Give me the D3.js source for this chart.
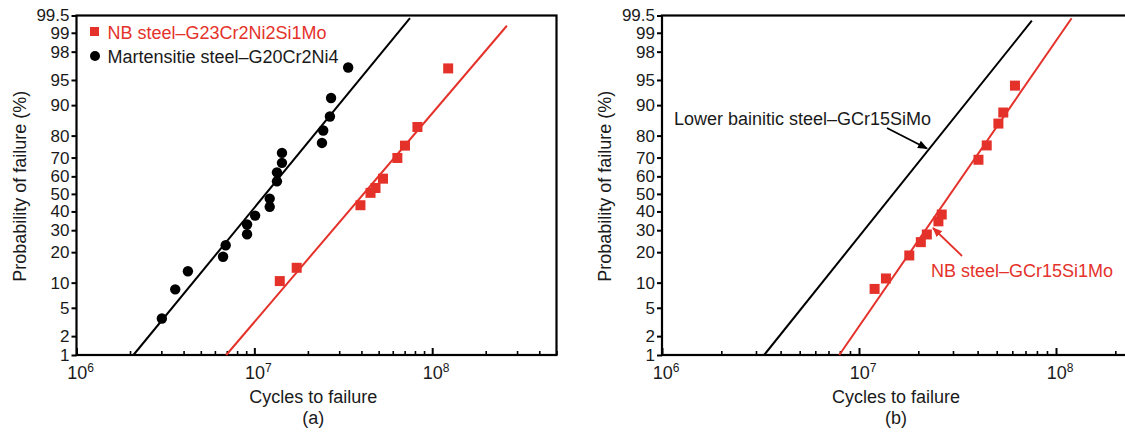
<!DOCTYPE html>
<html><head><meta charset="utf-8">
<script src="https://cdn.jsdelivr.net/npm/d3@7"></script>
<style>
html,body{margin:0;padding:0;background:#fff;}
svg{display:block;font-family:"Liberation Sans",Arial,sans-serif;}
</style></head>
<body>
<svg id="chart" width="1125" height="433"></svg>
<script>
// ---------- data ----------
const xDomain = [1e6, 5e8];
const yTickValues = [1, 2, 5, 10, 20, 30, 40, 50, 60, 70, 80, 90, 95, 98, 99, 99.5];
const yTickLabels = ["1","2","5","10","20","30","40","50","60","70","80","90","95","98","99","99.5"];
const xDecades = [6, 7, 8];

// panel (a)
const martN = [3.02e6, 3.59e6, 4.23e6, 6.67e6, 6.9e6, 9.1e6, 9.1e6, 1.01e7, 1.22e7, 1.22e7, 1.34e7, 1.34e7, 1.43e7, 1.43e7, 2.40e7, 2.44e7, 2.66e7, 2.70e7, 3.37e7];
const martP = [3.6, 8.4, 13.2, 18.2, 22.9, 28.0, 32.9, 37.7, 42.6, 47.3, 57.2, 62.2, 67.3, 72.3, 76.9, 82.0, 86.8, 91.7, 96.6];
const nbAN = [1.39e7, 1.73e7, 3.95e7, 4.5e7, 4.8e7, 5.29e7, 6.37e7, 7.03e7, 8.26e7, 1.23e8];
const nbAP = [10.4, 14.3, 43.5, 50.6, 53.4, 58.7, 69.8, 75.7, 83.3, 96.5];
const martLineN = [2.09e6, 7.5e7];
const martLineP = [1, 99.44];
const nbALineN = [6.95e6, 2.63e8];
const nbALineP = [1, 99.24];
const legendA = ["NB steel\u2013G23Cr2Ni2Si1Mo", "Martensitie steel\u2013G20Cr2Ni4"];

// panel (b)
const nbBN = [1.2e7, 1.37e7, 1.80e7, 2.06e7, 2.21e7, 2.53e7, 2.63e7, 4.04e7, 4.45e7, 5.1e7, 5.4e7, 6.19e7];
const nbBP = [8.5, 11.1, 18.7, 24.3, 27.9, 34.6, 38.3, 68.9, 75.8, 84.5, 88.0, 94.1];
const lowerLineN = [3.3e6, 7.54e7];
const lowerLineP = [1, 99.38];
const nbBLineN = [7.94e6, 1.2e8];
const nbBLineP = [1, 99.44];
const labelLower = "Lower bainitic steel\u2013GCr15SiMo";
const labelNbB = "NB steel\u2013GCr15Si1Mo";

const xTitle = "Cycles to failure";
const yTitle = "Probability of failure (%)";

// ---------- helpers ----------
const RED = "#e4322b";
function probit(p){
  const a=[-3.969683028665376e+01,2.209460984245205e+02,-2.759285104469687e+02,1.383577518672690e+02,-3.066479806614716e+01,2.506628277459239e+00];
  const b=[-5.447609879822406e+01,1.615858368580409e+02,-1.556989798598866e+02,6.680131188771972e+01,-1.328068155288572e+01];
  const c=[-7.784894002430293e-03,-3.223964580411365e-01,-2.400758277161838e+00,-2.549732539343734e+00,4.374664141464968e+00,2.938163982698783e+00];
  const d=[7.784695709041462e-03,3.224671290700398e-01,2.445134137142996e+00,3.754408661907416e+00];
  const pl=0.02425, ph=1-pl;
  let q,r;
  if(p<pl){q=Math.sqrt(-2*Math.log(p));return (((((c[0]*q+c[1])*q+c[2])*q+c[3])*q+c[4])*q+c[5])/((((d[0]*q+d[1])*q+d[2])*q+d[3])*q+1);}
  if(p<=ph){q=p-0.5;r=q*q;return (((((a[0]*r+a[1])*r+a[2])*r+a[3])*r+a[4])*r+a[5])*q/(((((b[0]*r+b[1])*r+b[2])*r+b[3])*r+b[4])*r+1);}
  q=Math.sqrt(-2*Math.log(1-p));return -(((((c[0]*q+c[1])*q+c[2])*q+c[3])*q+c[4])*q+c[5])/((((d[0]*q+d[1])*q+d[2])*q+d[3])*q+1);
}
const zOf = pct => probit(pct/100);

const svg = d3.select("#chart");
const defs = svg.append("defs");
function marker(id,color){
  defs.append("marker").attr("id",id).attr("viewBox","0 0 10 10").attr("refX",9).attr("refY",5)
    .attr("markerWidth",10).attr("markerHeight",10).attr("markerUnits","userSpaceOnUse").attr("orient","auto")
    .append("path").attr("d","M0,1 L10,5 L0,9 Z").attr("fill",color);
}
marker("arrK","#000"); marker("arrR",RED);

function panel(opt){
  const g = svg.append("g");
  const x = d3.scaleLog().domain(xDomain).range([opt.left, opt.right]);
  const yz = d3.scaleLinear().domain([zOf(1), zOf(99.5)]).range([opt.bottom, opt.top]);
  const y = p => yz(zOf(p));

  // y axis (outward ticks)
  const yAxis = d3.axisLeft(yz).tickValues(yTickValues.map(zOf))
    .tickFormat((d,i)=>yTickLabels[i]).tickSize(5).tickPadding(2);
  const ya = g.append("g").attr("transform",`translate(${opt.left},0)`).call(yAxis);
  ya.select(".domain").remove();
  ya.selectAll("line").attr("stroke","#000").attr("stroke-width",2);
  ya.selectAll("text").attr("font-size",17).attr("fill","#1a1a1a").attr("font-family","Liberation Sans, Arial, sans-serif");

  // x axis minor ticks (inward)
  const minors=[];
  for(let e=6;e<=8;e++) for(let m=2;m<=9;m++){const v=m*Math.pow(10,e); if(v<=xDomain[1]) minors.push(v);}
  const xMinor = d3.axisBottom(x).tickValues(minors).tickSize(-4).tickFormat("");
  const xm = g.append("g").attr("transform",`translate(0,${opt.bottom})`).call(xMinor);
  xm.select(".domain").remove();
  xm.selectAll("line").attr("stroke","#000").attr("stroke-width",1.6);
  const xMajor = d3.axisBottom(x).tickValues(xDecades.map(e=>Math.pow(10,e))).tickSize(-7).tickFormat("");
  const xM = g.append("g").attr("transform",`translate(0,${opt.bottom})`).call(xMajor);
  xM.select(".domain").remove();
  xM.selectAll("line").attr("stroke","#000").attr("stroke-width",2);

  // x labels 10^n
  xDecades.forEach(e=>{
    const t = g.append("text").attr("x",x(Math.pow(10,e))+4).attr("y",opt.bottom+24)
      .attr("text-anchor","middle").attr("font-size",18).attr("fill","#1a1a1a");
    t.append("tspan").text("10");
    t.append("tspan").attr("font-size",12).attr("dy",-7).text(String(e));
  });

  // frame
  g.append("rect").attr("x",opt.left).attr("y",opt.top).attr("width",opt.right-opt.left).attr("height",opt.bottom-opt.top)
    .attr("fill","none").attr("stroke","#000").attr("stroke-width",2.2);

  // titles
  g.append("text").attr("x",(opt.left+opt.right0)/2).attr("y",opt.bottom+48).attr("text-anchor","middle")
    .attr("font-size",18).attr("fill","#1a1a1a").text(xTitle);
  g.append("text").attr("x",(opt.left+opt.right0)/2).attr("y",opt.bottom+69).attr("text-anchor","middle")
    .attr("font-size",18).attr("fill","#1a1a1a").text(opt.tag);
  g.append("text").attr("transform",`translate(${opt.left-51},${(opt.top+opt.bottom)/2+1}) rotate(-90)`)
    .attr("text-anchor","middle").attr("font-size",18).attr("fill","#1a1a1a").text(yTitle);

  return {g,x,y};
}

const line = (P,pp,nn) => d3.line().x(d=>P.x(d[0])).y(d=>P.y(d[1]))(nn.map((n,i)=>[n,pp[i]]));

// ---------- panel (a) ----------
const A = panel({left:76.5, right:556.5, right0:550, top:15.5, bottom:355, tag:"(a)"});
A.g.append("path").attr("d",line(A,martLineP,martLineN)).attr("stroke","#000").attr("stroke-width",2).attr("fill","none");
A.g.append("path").attr("d",line(A,nbALineP,nbALineN)).attr("stroke",RED).attr("stroke-width",2).attr("fill","none");
A.g.selectAll(".mc").data(martN).join("circle").attr("cx",d=>A.x(d)).attr("cy",(d,i)=>A.y(martP[i])).attr("r",5.2).attr("fill","#000");
A.g.selectAll(".ns").data(nbAN).join("rect").attr("x",d=>A.x(d)-5).attr("y",(d,i)=>A.y(nbAP[i])-5).attr("width",10).attr("height",10).attr("fill",RED);
// legend
A.g.append("rect").attr("x",90).attr("y",27).attr("width",9).attr("height",9).attr("fill",RED);
A.g.append("text").attr("x",107.5).attr("y",38.5).attr("font-size",18).attr("fill",RED).text(legendA[0]);
A.g.append("circle").attr("cx",95).attr("cy",56).attr("r",5).attr("fill","#000");
A.g.append("text").attr("x",107.5).attr("y",62.5).attr("font-size",18).attr("fill","#1a1a1a").text(legendA[1]);

// ---------- panel (b) ----------
const B = panel({left:662, right:1193.7, right0:1130, top:15.5, bottom:355, tag:"(b)"});
B.g.append("path").attr("d",line(B,lowerLineP,lowerLineN)).attr("stroke","#000").attr("stroke-width",2).attr("fill","none");
B.g.append("path").attr("d",line(B,nbBLineP,nbBLineN)).attr("stroke",RED).attr("stroke-width",2).attr("fill","none");
B.g.selectAll(".ns").data(nbBN).join("rect").attr("x",d=>B.x(d)-5).attr("y",(d,i)=>B.y(nbBP[i])-5).attr("width",10).attr("height",10).attr("fill",RED);
B.g.append("text").attr("x",674).attr("y",124.5).attr("font-size",18).attr("fill","#1a1a1a").text(labelLower);
B.g.append("line").attr("x1",887).attr("y1",128).attr("x2",927).attr("y2",148.5).attr("stroke","#000").attr("stroke-width",1.8).attr("marker-end","url(#arrK)");
B.g.append("text").attr("x",931).attr("y",276.5).attr("font-size",18).attr("fill",RED).text(labelNbB);
B.g.append("line").attr("x1",962).attr("y1",256).attr("x2",933).attr("y2",228).attr("stroke",RED).attr("stroke-width",1.8).attr("marker-end","url(#arrR)");
</script>
</body></html>
